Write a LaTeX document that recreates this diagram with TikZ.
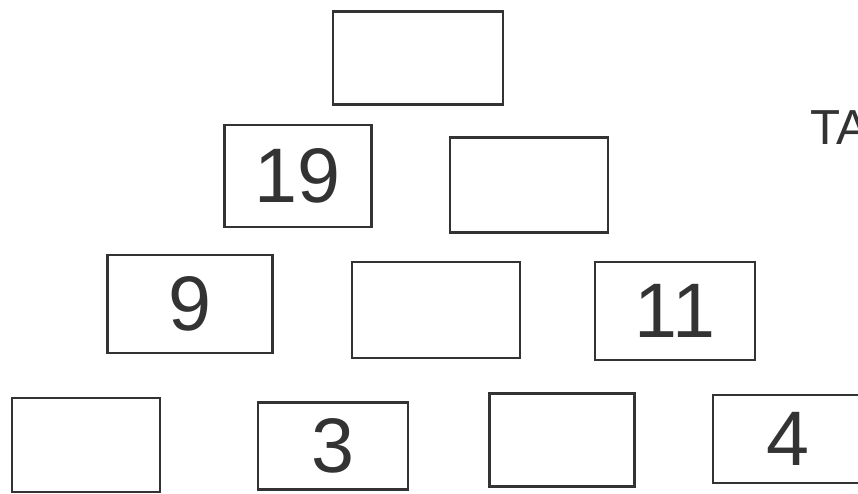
\documentclass[tikz,border=0pt]{standalone}
\usepackage{fontspec}
\setmainfont{Liberation Sans}
\usetikzlibrary{positioning}

\begin{document}
\begin{tikzpicture}[
  box/.style={rectangle, draw=black!80, line width=1.4pt, fill=none, inner sep=0pt, font=\fontsize{44}{44}\selectfont, text=black!80},
  note/.style={anchor=west, inner sep=0pt, font=\fontsize{28}{28}\selectfont, text=black!80}
]
\useasboundingbox (0,0) rectangle (17.16,9.88);
% top row
\node[box, minimum width=3.4cm, minimum height=1.86cm] (apex) at (8.36,8.72) {};
% second row
\node[box, minimum width=2.94cm, minimum height=2.04cm] (rowb1) at (5.96,6.36) {19};
\node[box, minimum width=3.16cm, minimum height=1.9cm] (rowb2) at (10.58,6.18) {};
% third row
\node[box, minimum width=3.3cm, minimum height=1.96cm] (rowc1) at (3.8,3.8) {9};
\node[box, minimum width=3.36cm, minimum height=1.92cm] (rowc2) at (8.72,3.68) {};
\node[box, minimum width=3.2cm, minimum height=1.96cm] (rowc3) at (13.5,3.66) {11};
% bottom row
\node[box, minimum width=2.96cm, minimum height=1.88cm] (rowd1) at (1.72,0.98) {};
\node[box, minimum width=3.0cm, minimum height=1.74cm] (rowd2) at (6.66,0.96) {3};
\node[box, minimum width=2.9cm, minimum height=1.86cm] (rowd3) at (11.24,1.08) {};
\node[box, minimum width=3.0cm, minimum height=1.76cm] (rowd4) at (15.76,1.1) {4};
% cut-off note at the right edge
\node[note] (title) at (16.2,7.32) {TA};
\end{tikzpicture}
\end{document}
